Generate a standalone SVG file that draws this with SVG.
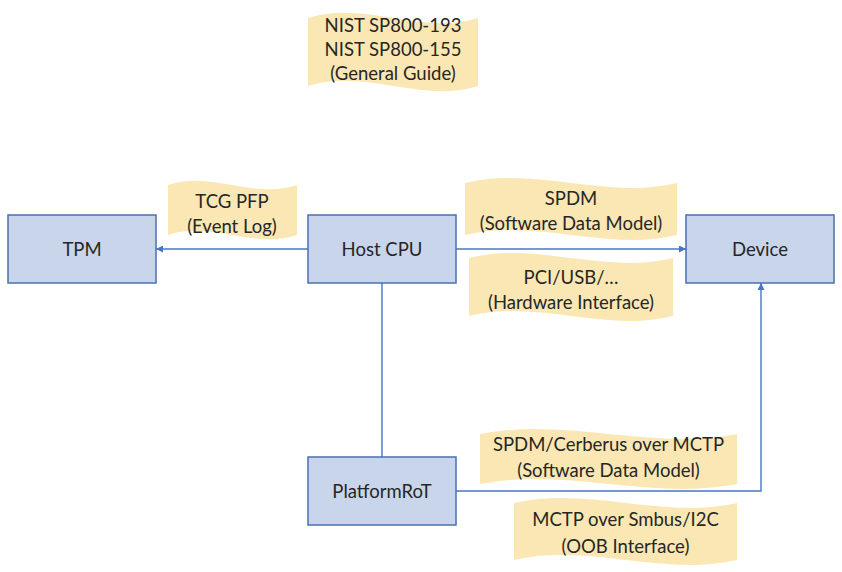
<svg xmlns="http://www.w3.org/2000/svg" width="842" height="572" viewBox="0 0 842 572">
<defs>
<style>
.box{fill:#C9D5EA;stroke:#4A6FB0;stroke-width:1.5}
.wave{fill:#FAE7B3}
.t{font-family:Lato,"Liberation Sans",sans-serif;font-size:18.5px;fill:#262626;text-anchor:middle}
.ln{fill:none;stroke:#4A76C4;stroke-width:1.4}
</style>
<marker id="arr" viewBox="0 0 10 10" refX="10" refY="5" markerWidth="8" markerHeight="7" orient="auto" markerUnits="userSpaceOnUse">
<path d="M0,0 L10,5 L0,10 z" fill="#4A76C4"/>
</marker>
</defs>
<rect width="842" height="572" fill="#FFFFFF"/>

<g id="label-nist">
<path class="wave" d="M308,18 C364.7,0 421.3,36 478,18 L478,86 C421.3,104 364.7,68 308,86 Z"/>
<text class="t" x="393" y="32">NIST SP800-193</text>
<text class="t" x="393" y="56">NIST SP800-155</text>
<text class="t" x="393" y="80">(General Guide)</text>
</g>

<g id="label-tcg">
<path class="wave" d="M168,185 C211,170 254,200 297,185 L297,235 C254,250 211,220 168,235 Z"/>
<text class="t" x="232" y="208">TCG PFP</text>
<text class="t" x="232" y="232.5">(Event Log)</text>
</g>

<g id="label-spdm">
<path class="wave" d="M465,183 C535.7,166 606.3,200 677,183 L677,235 C606.3,252 535.7,218 465,235 Z"/>
<text class="t" x="571" y="205">SPDM</text>
<text class="t" x="571" y="229.5">(Software Data Model)</text>
</g>

<g id="label-pci">
<path class="wave" d="M469,258 C537,241 605,275 673,258 L673,316 C605,333 537,299 469,316 Z"/>
<text class="t" x="571" y="284">PCI/USB/…</text>
<text class="t" x="571" y="308.5">(Hardware Interface)</text>
</g>

<g id="label-cerberus">
<path class="wave" d="M480,434 C565.7,417 651.3,451 737,434 L737,484 C651.3,501 565.7,467 480,484 Z"/>
<text class="t" x="608.5" y="450.5">SPDM/Cerberus over MCTP</text>
<text class="t" x="608.5" y="477">(Software Data Model)</text>
</g>

<g id="label-mctp">
<path class="wave" d="M514,503 C588.3,486 662.7,520 737,503 L737,560 C662.7,577 588.3,543 514,560 Z"/>
<text class="t" x="625.5" y="526">MCTP over Smbus/I2C</text>
<text class="t" x="625.5" y="553">(OOB Interface)</text>
</g>

<g id="connectors">
<path class="ln" d="M308,249 H156" marker-end="url(#arr)"/>
<path class="ln" d="M456,249 H686" marker-end="url(#arr)"/>
<path class="ln" d="M382,283 V457"/>
<path class="ln" d="M456,491 H761 V283" marker-end="url(#arr)"/>
</g>

<g id="node-tpm">
<rect class="box" x="8" y="215" width="148" height="68"/>
<text class="t" x="82" y="255.5">TPM</text>
</g>
<g id="node-host">
<rect class="box" x="308" y="215" width="148" height="68"/>
<text class="t" x="382" y="255.5">Host CPU</text>
</g>
<g id="node-device">
<rect class="box" x="686" y="215" width="148" height="68"/>
<text class="t" x="760" y="255.5">Device</text>
</g>
<g id="node-platformrot">
<rect class="box" x="308" y="457" width="148" height="68"/>
<text class="t" x="382" y="497.5">PlatformRoT</text>
</g>
</svg>
